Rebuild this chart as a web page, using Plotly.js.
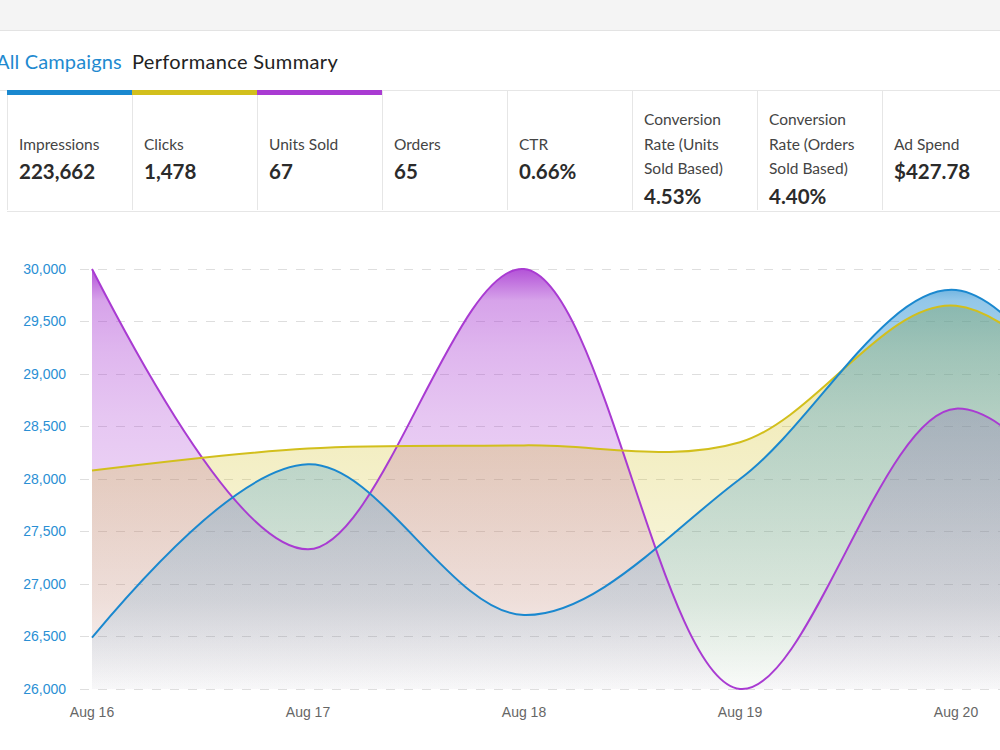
<!DOCTYPE html>
<html>
<head>
<meta charset="utf-8">
<script src="https://cdn.plot.ly/plotly-3.0.1.min.js"></script>
<style>
  html, body { margin: 0; padding: 0; background: #fff; }
  body { width: 1000px; height: 750px; position: relative; overflow: hidden; font-family: Lato, "Open Sans", sans-serif; }
  #topbar { position: absolute; left: 0; top: 0; width: 1000px; height: 30px; background: #f4f4f4; border-bottom: 1px solid #e3e3e3; z-index: 2; }
  #heading { position: absolute; left: -4px; top: 48px; font-size: 20px; line-height: 27px; white-space: nowrap; z-index: 2; }
  #heading .scope { color: #1f8ad0; margin-right: 10px; letter-spacing: 0.15px; }
  #heading .name { color: #222; letter-spacing: 0.35px; }
  #cards { position: absolute; left: 0; top: 90px; width: 1000px; height: 120px; border-top: 1px solid #e6e6e6; box-sizing: border-box; z-index: 2; }
  #cardrow { position: absolute; left: 7px; top: -1px; height: 121px; border-bottom: 1px solid #e6e6e6; display: flex; }
  .card { position: relative; width: 125px; height: 120px; box-sizing: border-box; border-left: 1px solid #e6e6e6; padding: 19px 0 0 11px; display: flex; flex-direction: column; justify-content: center; }
  .card .bar { position: absolute; left: -1px; right: 0; top: 0; height: 5px; }
  .card .label { font-size: 15.5px; line-height: 24.5px; color: #444; }
  .card .value { font-size: 20.5px; line-height: 31px; font-weight: 700; color: #2b2b2b; }
  #chart { position: absolute; left: 0; top: 0; width: 1000px; height: 750px; z-index: 1; }
</style>
</head>
<body>
<div id="topbar"></div>
<div id="heading"><span class="scope">All Campaigns</span><span class="name">Performance Summary</span></div>
<div id="cards"><div id="cardrow"></div></div>
<div id="chart"></div>
<script>
// Summary metrics shown in the card strip
const metricLabels = ["Impressions", "Clicks", "Units Sold", "Orders", "CTR",
  "Conversion Rate (Units Sold Based)", "Conversion Rate (Orders Sold Based)", "Ad Spend"];
const metricValues = ["223,662", "1,478", "67", "65", "0.66%", "4.53%", "4.40%", "$427.78"];
const metricLabelLines = [["Impressions"], ["Clicks"], ["Units Sold"], ["Orders"], ["CTR"],
  ["Conversion", "Rate (Units", "Sold Based)"], ["Conversion", "Rate (Orders", "Sold Based)"], ["Ad Spend"]];

// Daily series plotted on the shared axis
const dates = ["Aug 16", "Aug 17", "Aug 18", "Aug 19", "Aug 20", "Aug 21"];
const impressions = [26490, 28140, 26705, 28000, 29800, 27150];
const clicks = [28080, 28290, 28320, 28350, 29650, 27700];
const unitsSold = [30000, 27330, 30000, 26000, 28670, 26450];
const yTicks = [26000, 26500, 27000, 27500, 28000, 28500, 29000, 29500, 30000];

const seriesColors = { impressions: [26, 136, 207], clicks: [210, 191, 28], units: [169, 59, 210] };

// Build the card strip
const row = document.getElementById("cardrow");
const barColors = [seriesColors.impressions, seriesColors.clicks, seriesColors.units];
metricLabelLines.forEach((lines, i) => {
  const card = document.createElement("div");
  card.className = "card";
  card.title = metricLabels[i];
  if (barColors[i]) {
    const bar = document.createElement("div");
    bar.className = "bar";
    bar.style.background = "rgb(" + barColors[i].join(",") + ")";
    card.appendChild(bar);
  }
  const lab = document.createElement("div");
  lab.className = "label";
  lab.innerHTML = lines.join("<br>");
  const val = document.createElement("div");
  val.className = "value";
  val.textContent = metricValues[i];
  card.appendChild(lab);
  card.appendChild(val);
  row.appendChild(card);
});

// Chart geometry
const plotTop = 264, plotBottom = 694, padPx = 5;
const yMin = Math.min(...yTicks), yMax = Math.max(...yTicks);
const unitsPerPx = (yMax - yMin) / (plotBottom - plotTop - 2 * padPx);
const yRange = [yMin - padPx * unitsPerPx, yMax + padPx * unitsPerPx];

function rgba(c, a) { return "rgba(" + c.join(",") + "," + a + ")"; }
function gradient(c) {
  return {
    type: "vertical", start: yMin, stop: yMax,
    colorscale: [
      [0, rgba(c, 0.02)], [0.21, rgba(c, 0.14)], [0.65, rgba(c, 0.29)],
      [0.8, rgba(c, 0.37)], [0.925, rgba(c, 0.47)], [1, rgba(c, 0.88)]
    ]
  };
}
const floor = dates.map(() => yMin);
const splineLine = { shape: "spline", smoothing: 1 };

function baseline() {
  return { x: dates, y: floor, type: "scatter", mode: "lines", line: { width: 0 }, hoverinfo: "skip", showlegend: false };
}
// Filled band between the axis floor and a series (outline drawn separately)
function band(name, ys, c) {
  return {
    name: name, x: dates, y: ys, type: "scatter", mode: "lines",
    line: Object.assign({ width: 0 }, splineLine),
    fill: "tonexty", fillgradient: gradient(c), showlegend: false
  };
}
// Series outline, drawn above every fill
function outline(name, ys, c) {
  return {
    name: name, x: dates, y: ys, type: "scatter", mode: "lines",
    line: Object.assign({ color: rgba(c, 1), width: 2 }, splineLine), showlegend: false
  };
}

const data = [
  baseline(), band("Units Sold", unitsSold, seriesColors.units),
  baseline(), band("Clicks", clicks, seriesColors.clicks),
  baseline(), band("Impressions", impressions, seriesColors.impressions),
  outline("Units Sold", unitsSold, seriesColors.units),
  outline("Clicks", clicks, seriesColors.clicks),
  outline("Impressions", impressions, seriesColors.impressions)
];

const layout = {
  width: 1000, height: 750,
  margin: { l: 80, r: 0, t: plotTop, b: 750 - plotBottom, pad: 0 },
  paper_bgcolor: "rgba(0,0,0,0)", plot_bgcolor: "rgba(0,0,0,0)",
  showlegend: false,
  xaxis: {
    type: "category", range: [-12 / 216, 908 / 216],
    showgrid: false, zeroline: false, showline: false, ticks: "",
    tickfont: { family: "Liberation Sans, Arial, sans-serif", size: 14, color: "#666" },
    ticklabelstandoff: 8
  },
  yaxis: {
    range: yRange, tickvals: yTicks, tickformat: ",d",
    showgrid: true, gridcolor: "#dedede", griddash: "dash", gridwidth: 1,
    zeroline: false, showline: false, ticks: "",
    tickfont: { family: "Liberation Sans, Arial, sans-serif", size: 14, color: "#2a8fd4" },
    ticklabelstandoff: 13
  },
  hovermode: false
};

Plotly.newPlot("chart", data, layout, { displayModeBar: false, staticPlot: true });
</script>
</body>
</html>
